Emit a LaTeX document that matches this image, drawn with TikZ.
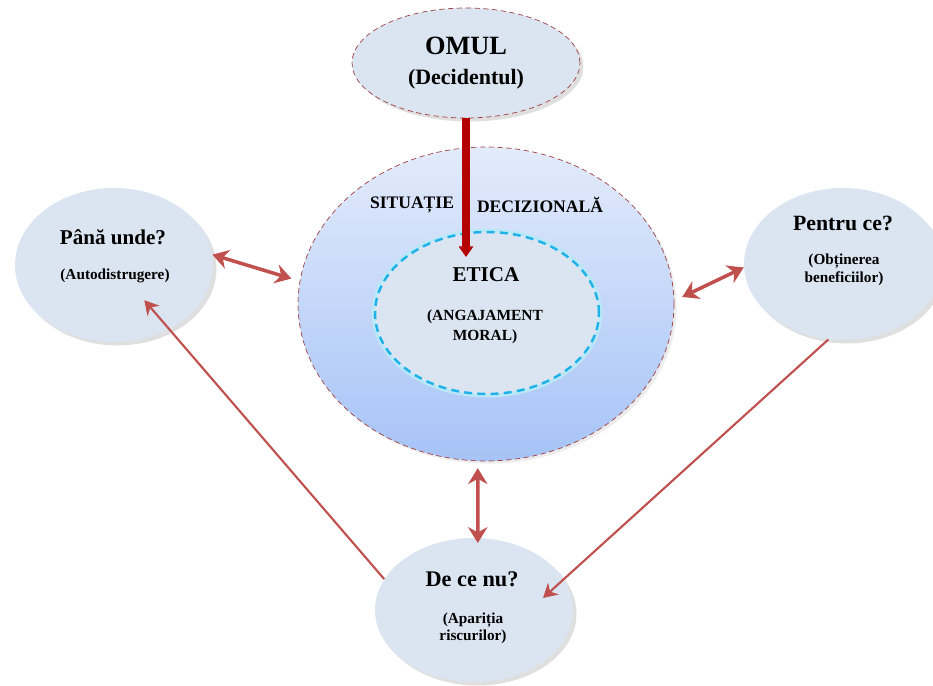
\documentclass[tikz,border=0pt]{standalone}
\usepackage{fontspec}
\setmainfont{Liberation Serif}
\usetikzlibrary{arrows,arrows.meta,shapes.geometric,shadows,calc}

\definecolor{bubble}{HTML}{DBE5F1}
\definecolor{linkred}{HTML}{C0504D}
\definecolor{darkarrow}{HTML}{B40000}
\definecolor{rim}{HTML}{A04040}
\definecolor{glow}{HTML}{1EB2E8}
\definecolor{skytop}{HTML}{E3EBFB}
\definecolor{skybottom}{HTML}{A6C3F7}

\begin{document}
\begin{tikzpicture}[x=0.02cm,y=-0.02cm,>={Stealth[length=9pt,width=11pt]},
                    bubble/.style={ellipse,fill=bubble,inner sep=0pt,
                      drop shadow={opacity=0.25,shadow xshift=2pt,shadow yshift=-2pt}},
                    rimmed/.style={draw=rim,densely dashed,line width=0.4pt},
                    link/.style={<->,draw=linkred,line width=2pt},
                    thin link/.style={-{Stealth[length=8pt,width=9pt]},draw=linkred,line width=1.2pt},
                    txt/.style={font=\bfseries,align=center,inner sep=0pt}]

  \useasboundingbox (0,0) rectangle (933,686);

  % the decision maker
  \node[bubble,rimmed,minimum width=4.56cm,minimum height=2.2cm] (omul) at (466,63) {};
  \node[txt,font=\bfseries\fontsize{15}{18}\selectfont]     (omultitle) at (466,46) {OMUL};
  \node[txt,font=\bfseries\fontsize{12.5}{15}\selectfont]   (omulsub)   at (466,79) {(Decidentul)};

  % decision situation and ethics
  \node[ellipse,rimmed,inner sep=0pt,top color=skytop,bottom color=skybottom,
        drop shadow={opacity=0.15,shadow xshift=1.5pt,shadow yshift=-1.5pt},
        minimum width=7.52cm,minimum height=6.28cm] (situatie) at (486,304) {};
  \node[ellipse,inner sep=0pt,fill=bubble,draw=glow,line width=1.4pt,dash pattern=on 4.5pt off 3pt,
        preaction={draw=glow!30,line width=4pt,solid},
        minimum width=4.48cm,minimum height=3.24cm] (etica) at (487,313) {};
  \node[txt,font=\bfseries\fontsize{10}{12}\selectfont] (sit1) at (412,205) {SITUAȚIE};
  \node[txt,font=\bfseries\fontsize{10}{12}\selectfont] (sit2) at (540,205) {DECIZIONALĂ};
  \node[txt,font=\bfseries\fontsize{12}{14}\selectfont] (eticatitle) at (486,275) {ETICA};
  \node[txt,font=\bfseries\fontsize{8.8}{11.3}\selectfont] (eticasub) at (485,327) {(ANGAJAMENT\\MORAL)};

  % the three questions
  \node[bubble,minimum width=3.96cm,minimum height=3.08cm] (pana) at (114,265) {};
  \node[txt,font=\bfseries\fontsize{12}{14}\selectfont]   (panatitle) at (113,237) {Până unde?};
  \node[txt,font=\bfseries\fontsize{8.7}{11}\selectfont]  (panasub)   at (115,276) {(Autodistrugere)};

  \node[bubble,minimum width=3.96cm,minimum height=3.04cm] (pentru) at (843,264) {};
  \node[txt,font=\bfseries\fontsize{12.4}{14}\selectfont] (pentrutitle) at (843,223) {Pentru ce?};
  \node[txt,font=\bfseries\fontsize{8.7}{10.2}\selectfont] (pentrusub) at (844,270) {(Obținerea\\beneficiilor)};

  \node[bubble,minimum width=3.96cm,minimum height=2.88cm] (dcn) at (474,610) {};
  \node[txt,font=\bfseries\fontsize{12.7}{14}\selectfont] (dcntitle) at (472,579) {De ce nu?};
  \node[txt,font=\bfseries\fontsize{8.7}{9.6}\selectfont] (dcnsub) at (473,628) {(Apariția\\riscurilor)};

  \coordinate (hit) at (466,257);
  \coordinate (dcnhit) at ($(dcn.center)+(69,-12)$);

  \draw[darkarrow,line width=5pt,-{Triangle[width=8pt,length=6pt]}] (omul.south) -- (hit);

  \path (pana.6)      edge[link,shorten >=5pt]                 (situatie.173)
        (situatie.1)  edge[link,shorten <=5pt]                 (pentru.182)
        (situatie.-93) edge[link,shorten <=4pt,shorten >=-3pt] (dcn.87)
        (dcn.161)     edge[thin link,shorten >=0.93cm]         (pana.center)
        (pentru.-101) edge[thin link]                          (dcnhit);
\end{tikzpicture}
\end{document}
